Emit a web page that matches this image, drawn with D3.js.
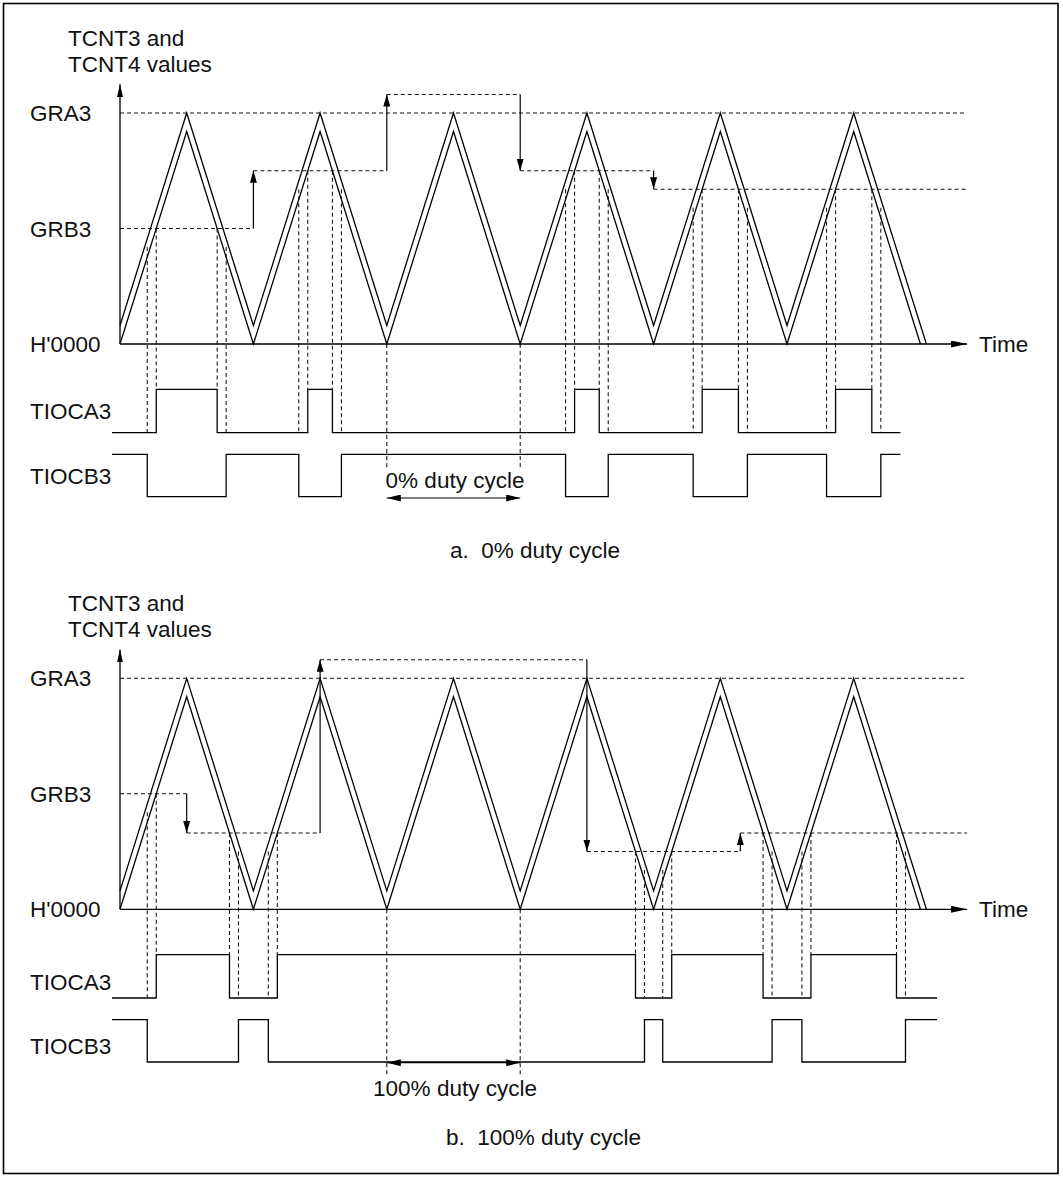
<!DOCTYPE html>
<html>
<head>
<meta charset="utf-8">
<script src="https://cdn.jsdelivr.net/npm/d3@7"></script>
<style>
body { margin: 0; background: #fff; }
svg text { font-family: "Liberation Sans", Arial, Helvetica, sans-serif; font-size: 22.5px; fill: #111; }
.solid { fill: none; stroke: #000; stroke-width: 1.3; }
.dash { fill: none; stroke: #111; stroke-width: 1.05; stroke-dasharray: 4,3; }
.arrow { fill: none; stroke: #000; stroke-width: 1.2; }
</style>
</head>
<body>
<div id="graphic"></div>
<script>
// Counter vertices (time in half periods, value in % of GRA3)
var TCNT4_T = [0, 1, 2, 3, 4, 5, 6, 7, 8, 9, 10, 11, 12];
var TCNT4_V = [0, 92, 0, 92, 0, 92, 0, 92, 0, 92, 0, 92, 0];
var TCNT3_T = [0, 1, 2, 3, 4, 5, 6, 7, 8, 9, 10, 11, 12.09];
var TCNT3_V = [8, 100, 8, 100, 8, 100, 8, 100, 8, 100, 8, 100, 0];

var GRA3 = 100;
var COUNTER_OFFSET = 8;
var DEAD_TIME = 0.135;

// GRB3 buffer values and the times they get transferred
var GRB3_A = [50, 75, 108, 75, 67];
var GRB3_CHANGE_A = [2, 4, 6, 8];
var GRB3_B = [50, 33, 108, 25, 33];
var GRB3_CHANGE_B = [1, 3, 7, 9.3];

var DUTY_SPAN = [4, 6];

var AXIS_LABELS = ['GRA3', 'GRB3', "H'0000"];
var PIN_LABELS = ['TIOCA3', 'TIOCB3'];
var TITLE_LINES = ['TCNT3 and', 'TCNT4 values'];
var DUTY_LABELS = ['0% duty cycle', '100% duty cycle'];
var CAPTIONS = ['a.  0% duty cycle', 'b.  100% duty cycle'];

var WIDTH = 1063;
var HEIGHT = 1177;

/**
 * Find where TCNT4 meets the compare register, honouring buffer transfers.
 */
function findEdges(steps, changes) {
	var edges = [];
	for (var i = 0; i < TCNT4_T.length - 1; i++) {
		var t0 = TCNT4_T[i], t1 = TCNT4_T[i + 1];
		var v0 = TCNT4_V[i], v1 = TCNT4_V[i + 1];
		for (var k = 0; k < steps.length; k++) {
			var s0 = k === 0 ? -Infinity : changes[k - 1];
			var s1 = k === steps.length - 1 ? Infinity : changes[k];
			var c = steps[k];
			if (v0 === v1 || (c - v0) * (c - v1) > 0) continue;
			var t = t0 + (c - v0) / (v1 - v0) * (t1 - t0);
			if (t < s0 || t >= s1) continue;
			edges.push({ t: t, rising: v1 > v0, level: c });
		}
	}
	edges.sort(function(a, b) { return a.t - b.t; });
	return edges;
}

function stepPoints(start, end, initial, toggles) {
	var pts = [[start, initial]];
	var s = initial;
	toggles.forEach(function(d) {
		pts.push([d.t, s]);
		s = d.state;
		pts.push([d.t, s]);
	});
	pts.push([end, s]);
	return pts;
}

function render() {
	var svg = d3.select('#graphic').append('svg')
		.attr('width', WIDTH)
		.attr('height', HEIGHT);

	svg.append('rect')
		.attr('width', WIDTH).attr('height', HEIGHT)
		.attr('fill', '#fff');

	svg.append('rect')
		.attr('x', 3.5).attr('y', 3.5)
		.attr('width', 1054.5).attr('height', 1170)
		.attr('fill', 'none')
		.attr('stroke', '#000')
		.attr('stroke-width', 1.6);

	var defs = svg.append('defs');
	function marker(id, len, wid, orient) {
		defs.append('marker')
			.attr('id', id)
			.attr('markerUnits', 'userSpaceOnUse')
			.attr('viewBox', '0 0 ' + len + ' ' + wid)
			.attr('markerWidth', len)
			.attr('markerHeight', wid)
			.attr('refX', len)
			.attr('refY', wid / 2)
			.attr('orient', orient)
			.append('path')
			.attr('d', 'M0,0L' + len + ',' + (wid / 2) + 'L0,' + wid + 'Z')
			.attr('fill', '#000');
	}
	marker('head', 12, 7, 'auto');
	marker('axis-head', 13, 6, 'auto');
	marker('time-head', 16, 7, 'auto');
	marker('duty-head', 14, 7, 'auto');
	marker('duty-tail', 14, 7, 'auto-start-reverse');

	var panels = [
		{ top: 0, steps: GRB3_A, changes: GRB3_CHANGE_A, waveEnd: 11.7,
			pinY: [419, 484], dashEnd: 467, arrowY: 498, textY: 488,
			captionX: 450, captionY: 558 },
		{ top: 565.3, steps: GRB3_B, changes: GRB3_CHANGE_B, waveEnd: 12.25,
			pinY: [424.5, 489], dashEnd: 510, arrowY: 497.4, textY: 530.5,
			captionX: 446, captionY: 580 }
	];

	panels.forEach(function(p, pi) {
		renderPanel(svg, p, pi);
	});
}

function renderPanel(svg, p, pi) {
	var g = svg.append('g')
		.attr('transform', 'translate(0,' + p.top + ')');

	var xScale = d3.scaleLinear().domain([0, 12]).range([120, 920.4]);
	var yScale = d3.scaleLinear().domain([0, GRA3]).range([344, 113]);
	var laneA = d3.scaleLinear().domain([0, 1]).range([432.7, 389.3]);
	var laneB = d3.scaleLinear().domain([0, 1]).range([496.7, 454.3]);

	var tEnd = 12.7;

	// Title and axis labels
	g.append('text')
		.attr('x', 68)
		.selectAll('tspan')
		.data(TITLE_LINES)
		.enter().append('tspan')
		.attr('x', 68)
		.attr('y', function(d, i) { return 46 + i * 25.5; })
		.text(function(d) { return d; });

	var labelVals = [GRA3, p.steps[0], 0];
	g.selectAll('.ylab')
		.data(AXIS_LABELS)
		.enter().append('text')
		.attr('class', 'ylab')
		.attr('x', 30)
		.attr('y', function(d, i) { return yScale(labelVals[i]) + 8; })
		.text(function(d) { return d; });

	g.append('text')
		.attr('x', 979)
		.attr('y', yScale(0) + 8)
		.text('Time');

	g.selectAll('.pin')
		.data(PIN_LABELS)
		.enter().append('text')
		.attr('class', 'pin')
		.attr('x', 30)
		.attr('y', function(d, i) { return p.pinY[i]; })
		.text(function(d) { return d; });

	// GRA3 reference line
	g.append('line')
		.attr('class', 'dash')
		.attr('x1', xScale(0)).attr('x2', xScale(tEnd))
		.attr('y1', yScale(GRA3)).attr('y2', yScale(GRA3));

	// GRB3 levels: dashed runs joined by transfer arrows
	p.steps.forEach(function(c, k) {
		var ts = k === 0 ? 0 : p.changes[k - 1];
		var te = k === p.steps.length - 1 ? tEnd : p.changes[k];
		g.append('line')
			.attr('class', 'dash')
			.attr('x1', xScale(ts)).attr('x2', xScale(te))
			.attr('y1', yScale(c)).attr('y2', yScale(c));
		if (k < p.steps.length - 1) {
			g.append('line')
				.attr('class', 'arrow')
				.attr('x1', xScale(te)).attr('x2', xScale(te))
				.attr('y1', yScale(c)).attr('y2', yScale(p.steps[k + 1]))
				.attr('marker-end', 'url(#head)');
		}
	});

	// Counters
	var line = d3.line()
		.x(function(d) { return xScale(d[0]); })
		.y(function(d) { return yScale(d[1]); });

	g.append('path')
		.attr('class', 'solid')
		.attr('d', line(d3.zip(TCNT4_T, TCNT4_V)));
	g.append('path')
		.attr('class', 'solid')
		.attr('d', line(d3.zip(TCNT3_T, TCNT3_V)));

	// Axes
	g.append('line')
		.attr('class', 'solid')
		.attr('x1', xScale(0)).attr('x2', xScale(0))
		.attr('y1', yScale(0)).attr('y2', yScale(112.5))
		.attr('marker-end', 'url(#axis-head)');
	g.append('line')
		.attr('class', 'solid')
		.attr('x1', xScale(0)).attr('x2', xScale(tEnd))
		.attr('y1', yScale(0)).attr('y2', yScale(0))
		.attr('marker-end', 'url(#time-head)');

	// Output edges
	var edges = findEdges(p.steps, p.changes);
	var togA = edges.map(function(d) {
		return { t: d.t, state: d.rising ? 1 : 0, level: d.level };
	});
	var togB = edges.map(function(d) {
		return { t: d.rising ? d.t - DEAD_TIME : d.t + DEAD_TIME, state: d.rising ? 0 : 1, level: d.level };
	});

	g.selectAll('.vA')
		.data(togA)
		.enter().append('line')
		.attr('class', 'dash vA')
		.attr('x1', function(d) { return xScale(d.t); })
		.attr('x2', function(d) { return xScale(d.t); })
		.attr('y1', function(d) { return yScale(d.level); })
		.attr('y2', laneA(1));

	g.selectAll('.vB')
		.data(togB)
		.enter().append('line')
		.attr('class', 'dash vB')
		.attr('x1', function(d) { return xScale(d.t); })
		.attr('x2', function(d) { return xScale(d.t); })
		.attr('y1', function(d) { return yScale(d.level - COUNTER_OFFSET); })
		.attr('y2', laneA(0));

	var tStart = -0.12;
	var waveA = d3.line()
		.x(function(d) { return xScale(d[0]); })
		.y(function(d) { return laneA(d[1]); });
	var waveB = d3.line()
		.x(function(d) { return xScale(d[0]); })
		.y(function(d) { return laneB(d[1]); });

	g.append('path')
		.attr('class', 'solid')
		.attr('d', waveA(stepPoints(tStart, p.waveEnd, 0, togA)));
	g.append('path')
		.attr('class', 'solid')
		.attr('d', waveB(stepPoints(tStart, p.waveEnd, 1, togB)));

	// Duty cycle span
	g.selectAll('.duty')
		.data(DUTY_SPAN)
		.enter().append('line')
		.attr('class', 'dash duty')
		.attr('x1', function(d) { return xScale(d); })
		.attr('x2', function(d) { return xScale(d); })
		.attr('y1', yScale(0))
		.attr('y2', p.dashEnd);

	g.append('line')
		.attr('class', 'arrow')
		.attr('stroke-width', 1.5)
		.attr('x1', xScale(DUTY_SPAN[0])).attr('x2', xScale(DUTY_SPAN[1]))
		.attr('y1', p.arrowY).attr('y2', p.arrowY)
		.attr('marker-start', 'url(#duty-tail)')
		.attr('marker-end', 'url(#duty-head)');

	g.append('text')
		.attr('x', (xScale(DUTY_SPAN[0]) + xScale(DUTY_SPAN[1])) / 2 + 1.5)
		.attr('y', p.textY)
		.attr('text-anchor', 'middle')
		.text(DUTY_LABELS[pi]);

	g.append('text')
		.attr('x', p.captionX)
		.attr('y', p.captionY)
		.style('white-space', 'pre')
		.text(CAPTIONS[pi]);
}

document.addEventListener('DOMContentLoaded', function() {
	render();
});
</script>
</body>
</html>
